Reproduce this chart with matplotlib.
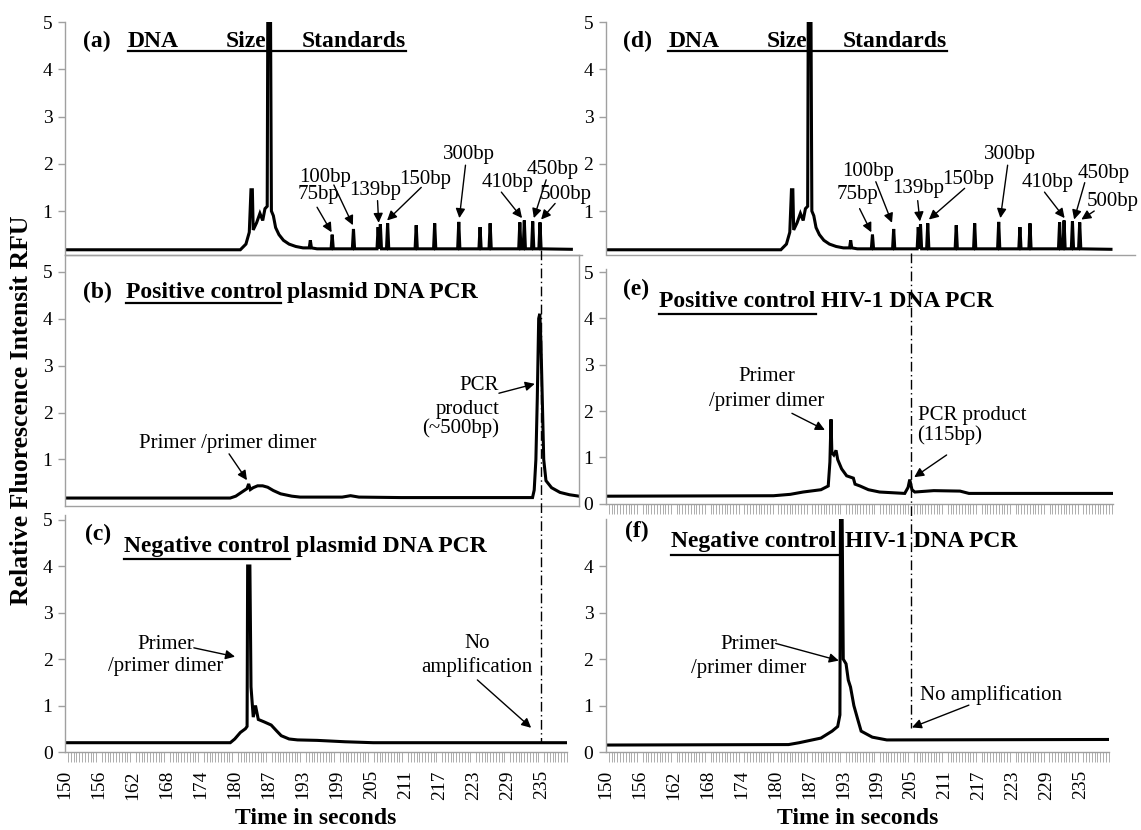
import matplotlib
matplotlib.use("Agg")
import matplotlib.pyplot as plt
from matplotlib.lines import Line2D
import matplotlib.transforms as mtrans
import numpy as np

plt.rcParams['font.family'] = ['Liberation Serif', 'DejaVu Serif']

# ---------------- data ----------------
XTICK_LABELS = ['150', '156', '162', '168', '174', '180', '187', '193', '199',
                '205', '211', '217', '223', '229', '235']

# DNA size standard trace, panels (a) and (d)
LADDER_T = [150, 181.3, 182.3, 182.9, 183.2, 183.45, 183.6, 184.2, 184.8, 185.3, 185.7, 186.1,
            186.2, 186.7, 186.85, 187.2, 187.6, 188.2, 189.0, 190.0, 191.2, 192.5, 193.6, 193.8,
            194.0, 195.0, 197.5, 197.7, 197.9, 201.3, 201.5, 201.7, 205.7, 205.9, 206.1, 206.3,
            206.5, 207.4, 207.6, 207.8, 212.5, 212.7, 212.9, 215.8, 216.0, 216.2, 220.1, 220.3,
            220.5, 223.9, 224.1, 224.3, 225.7, 225.9, 226.1, 231.0, 231.2, 231.4, 231.8, 232.0,
            232.2, 233.3, 233.5, 233.7, 234.6, 234.8, 235.0, 240.4]
LADDER_V = [0.18, 0.18, 0.3, 0.55, 1.45, 1.45, 0.6, 0.75, 0.95, 0.8, 1.05, 1.1,
            5.0, 5.0, 1.0, 0.9, 0.65, 0.5, 0.38, 0.3, 0.25, 0.22, 0.22, 0.38,
            0.22, 0.2, 0.2, 0.5, 0.2, 0.2, 0.62, 0.2, 0.2, 0.66, 0.2, 0.72,
            0.2, 0.2, 0.74, 0.2, 0.2, 0.7, 0.2, 0.2, 0.74, 0.2, 0.2, 0.77,
            0.2, 0.2, 0.66, 0.2, 0.2, 0.74, 0.2, 0.2, 0.76, 0.2, 0.2, 0.8,
            0.2, 0.2, 0.78, 0.2, 0.2, 0.76, 0.2, 0.19]

# (b) positive control plasmid DNA PCR
POS_PLASMID_T = [150, 179.5, 180.5, 181.5, 182.5, 182.8, 183.1, 183.6, 184.4, 185.3, 186.2,
                 187.2, 188.5, 190.5, 192.0, 199.5, 201.0, 202.5, 210.0, 233.5, 233.8, 234.1,
                 234.35, 234.6, 234.8, 235.0, 235.3, 235.5, 235.9, 236.9, 238.4, 240.1, 241.8]
POS_PLASMID_V = [0.18, 0.18, 0.22, 0.3, 0.38, 0.48, 0.36, 0.4, 0.44, 0.44, 0.41,
                 0.34, 0.27, 0.22, 0.2, 0.2, 0.23, 0.2, 0.19, 0.19, 0.35, 1.0,
                 2.3, 4.0, 4.1, 3.5, 2.0, 1.0, 0.55, 0.4, 0.3, 0.25, 0.22]

# (c) negative control plasmid DNA PCR
NEG_PLASMID_T = [150, 179.5, 180.3, 181.3, 182.2, 182.5, 182.6, 183.0, 183.2, 183.6, 184.0,
                 184.5, 185.5, 186.8, 187.8, 188.6, 190.0, 191.5, 195.0, 200.0, 205.0, 239.6]
NEG_PLASMID_V = [0.2, 0.2, 0.28, 0.42, 0.5, 0.55, 4.0, 4.0, 1.4, 0.75, 1.0,
                 0.7, 0.65, 0.58, 0.45, 0.35, 0.28, 0.26, 0.25, 0.22, 0.2, 0.2]

# (e) positive control HIV-1 DNA PCR
POS_HIV_T = [150, 180, 183, 185.3, 188.5, 189.8, 190.1, 190.3, 190.45, 190.8, 191.2, 191.5,
             192.2, 193.1, 194.3, 194.6, 195.5, 197.0, 199.0, 203.5, 204.1, 204.4, 204.8,
             205.3, 208.7, 213.4, 215.0, 240.8]
POS_HIV_V = [0.16, 0.17, 0.2, 0.25, 0.3, 0.38, 0.9, 1.82, 1.1, 1.05, 1.15, 0.95,
             0.75, 0.6, 0.55, 0.42, 0.38, 0.3, 0.25, 0.22, 0.35, 0.52, 0.3,
             0.25, 0.28, 0.27, 0.22, 0.22]

# (f) negative control HIV-1 DNA PCR
NEG_HIV_T = [150, 182.7, 184.6, 188.5, 190.5, 191.5, 191.9, 192.0, 192.3, 192.5, 193.0, 193.4,
             193.8, 194.4, 195.1, 195.7, 197.7, 200.3, 240.1]
NEG_HIV_V = [0.15, 0.16, 0.2, 0.3, 0.45, 0.55, 0.8, 5.0, 5.0, 2.0, 1.9, 1.55,
             1.4, 1.0, 0.7, 0.45, 0.32, 0.26, 0.27]

LADDER_LABELS = ['75bp', '100bp', '139bp', '150bp', '300bp', '410bp', '450bp', '500bp']
PCR_PRODUCT_TIME_PLASMID = 235.0
PCR_PRODUCT_TIME_HIV = 204.6

# ---------------- layout ----------------
W, H = 1141, 830
fig = plt.figure(figsize=(W / 100, H / 100), dpi=100)

GRAY = '#a0a0a0'
FS_TICK = 14
FS_ANN = 15
FS_TITLE = 17
XT_POS = [150 + k * 85 / 14 for k in range(15)]
MINOR = np.arange(150, 245, 85 / 14 / 12)


def fx(x):
    return x / W


def fy(y):
    return 1 - y / H


def add_ax(x0, x1, ytop, ybot, xmax, ylim, spines):
    ax = fig.add_axes([fx(x0), fy(ybot), (x1 - x0) / W, (ybot - ytop) / H])
    ax.set_facecolor('none')
    ax.set_xlim(150, xmax)
    ax.set_ylim(*ylim)
    for s in ['left', 'right', 'top', 'bottom']:
        ax.spines[s].set_visible(s in spines)
        ax.spines[s].set_color(GRAY)
        ax.spines[s].set_linewidth(1.0)
    ax.tick_params(axis='y', colors=GRAY, labelcolor='black', labelsize=FS_TICK,
                   length=5, width=1, pad=4)
    ax.set_xticks([])
    return ax


def minor_x(ax, labels):
    ax.set_xticks(XT_POS)
    if labels:
        ax.set_xticklabels(XTICK_LABELS, rotation=90, fontsize=14)
    else:
        ax.set_xticklabels([])
    ax.set_xticks(MINOR[MINOR <= ax.get_xlim()[1]], minor=True)
    ax.tick_params(axis='x', which='major', length=0, pad=13)
    ax.tick_params(axis='x', which='minor', length=7, width=0.6, colors=GRAY, direction='out')


def arrow(ax, start, tip):
    ax.annotate('', xy=tip, xytext=start,
                arrowprops=dict(arrowstyle='-|>', color='black', lw=1.0,
                                mutation_scale=14, shrinkA=0, shrinkB=0),
                annotation_clip=False)


def txt(ax, pos, s, ha='center'):
    ax.text(pos[0], pos[1], s, fontsize=FS_ANN, ha=ha, va='center', clip_on=False)


LW = 2.2

# (a)
axa = add_ax(65, 582, 22, 254.5, 242.3, (0.08, 5.0), ['left', 'bottom'])
axa.set_yticks([1, 2, 3, 4, 5])
axa.plot(LADDER_T, LADDER_V, color='black', lw=LW, solid_joinstyle='miter')
# (d)
axd = add_ax(606, 1135, 22, 254.5, 244.7, (0.08, 5.0), ['left', 'bottom'])
axd.set_yticks([1, 2, 3, 4, 5])
axd.plot(LADDER_T, LADDER_V, color='black', lw=LW, solid_joinstyle='miter')

lad_txt_a = [(195.2, 1.34), (196.5, 1.70), (205.4, 1.44), (214.3, 1.66), (222.2, 2.19),
             (229.0, 1.60), (237.1, 1.87), (239.3, 1.34)]
lad_st_a = [(195.0, 1.08), (198.0, 1.55), (205.8, 1.22), (213.6, 1.5), (221.5, 1.97),
            (227.9, 1.4), (235.9, 1.66), (237.5, 1.16)]
lad_tip_a = [(197.6, 0.55), (201.4, 0.7), (206.0, 0.75), (207.5, 0.8), (220.4, 0.85),
             (231.6, 0.85), (233.7, 0.85), (235.0, 0.82)]
lad_txt_d = [(195.0, 1.34), (197.0, 1.83), (205.8, 1.48), (214.9, 1.66), (222.4, 2.19),
             (229.0, 1.60), (239.1, 1.80), (240.7, 1.20)]
lad_st_d = [(195.4, 1.05), (198.3, 1.62), (205.8, 1.22), (214.2, 1.48), (221.9, 1.97),
            (228.5, 1.4), (235.7, 1.6), (237.4, 1.0)]
lad_tip_d = [(197.5, 0.55), (201.2, 0.75), (206.2, 0.78), (207.8, 0.82), (220.6, 0.85),
             (232.1, 0.85), (233.8, 0.82), (235.1, 0.82)]
for ax, tp, sp, ip in [(axa, lad_txt_a, lad_st_a, lad_tip_a), (axd, lad_txt_d, lad_st_d, lad_tip_d)]:
    for lab, p, s, t in zip(LADDER_LABELS, tp, sp, ip):
        txt(ax, p, lab)
        arrow(ax, s, t)

# (b)
axb = add_ax(65, 579, 255, 506.5, 241.8, (0, (506.5 - 255) / 47), ['left', 'bottom', 'top', 'right'])
axb.set_yticks([1, 2, 3, 4, 5])
axb.plot(POS_PLASMID_T, POS_PLASMID_V, color='black', lw=LW, solid_joinstyle='miter')
txt(axb, (179.0, 1.34), 'Primer /primer dimer')
arrow(axb, (179.3, 1.12), (182.5, 0.56))
txt(axb, (223.9, 2.57), 'PCR')
txt(axb, (221.9, 2.06), 'product')
txt(axb, (220.6, 1.66), '(~500bp)')
arrow(axb, (227.5, 2.41), (233.9, 2.61))

# (c)
axc = add_ax(65, 567, 515, 752, 239.6, (0, (752 - 515) / 46.5), ['left', 'bottom'])
axc.set_yticks([0, 1, 2, 3, 4, 5])
minor_x(axc, True)
axc.plot(NEG_PLASMID_T, NEG_PLASMID_V, color='black', lw=LW, solid_joinstyle='miter')
txt(axc, (168.0, 2.32), 'Primer')
txt(axc, (168.0, 1.83), '/primer dimer')
arrow(axc, (173.0, 2.24), (180.35, 2.05))
txt(axc, (223.6, 2.34), 'No')
txt(axc, (223.6, 1.83), 'amplification')
arrow(axc, (223.6, 1.55), (233.2, 0.52))

# (e)
axe = add_ax(606, 1113, 269, 503.6, 240.8, (0, (503.6 - 269) / 46.3), ['left', 'bottom'])
axe.set_yticks([0, 1, 2, 3, 4, 5])
minor_x(axe, False)
axe.plot(POS_HIV_T, POS_HIV_V, color='black', lw=LW, solid_joinstyle='miter')
txt(axe, (178.8, 2.74), 'Primer')
txt(axe, (178.8, 2.20), '/primer dimer')
arrow(axe, (183.3, 1.95), (189.2, 1.59))
txt(axe, (205.8, 1.91), 'PCR product', ha='left')
txt(axe, (205.8, 1.48), '(115bp)', ha='left')
arrow(axe, (211.0, 1.05), (205.2, 0.57))

# (f)
axf = add_ax(606, 1109, 519, 752, 240.1, (0, (752 - 519) / 46.4), ['left', 'bottom'])
axf.set_yticks([0, 1, 2, 3, 4])
minor_x(axf, True)
axf.plot(NEG_HIV_T, NEG_HIV_V, color='black', lw=LW, solid_joinstyle='miter')
txt(axf, (175.5, 2.31), 'Primer')
txt(axf, (175.5, 1.80), '/primer dimer')
arrow(axf, (180.4, 2.34), (191.7, 1.97))
txt(axf, (218.9, 1.23), 'No amplification')
arrow(axf, (215.0, 1.01), (204.8, 0.53))

# dash-dot marker lines for the PCR product position
for ax, t, y0, y1 in [(axb, PCR_PRODUCT_TIME_PLASMID, 250, 742), (axe, PCR_PRODUCT_TIME_HIV, 253, 728)]:
    tr = mtrans.blended_transform_factory(ax.transData, fig.transFigure)
    fig.add_artist(Line2D([t, t], [fy(y0), fy(y1)], transform=tr, color='black', lw=1.0,
                          dashes=(7, 2.5, 1, 2.5)))


# panel titles
def ftext(x, y, s, bold=True, size=FS_TITLE):
    fig.text(fx(x), fy(y), s, fontsize=size, fontweight='bold' if bold else 'normal',
             ha='left', va='baseline')


def uline(x0, x1, y):
    fig.add_artist(Line2D([fx(x0), fx(x1)], [fy(y), fy(y)], transform=fig.transFigure,
                          color='black', lw=1.6))


ftext(83, 47, '(a)')
ftext(127.6, 47, 'DNA')
ftext(225.7, 47, 'Size')
ftext(301.5, 47, 'Standards')
uline(127.6, 406, 51)

ftext(623, 47, '(d)')
ftext(668.3, 47, 'DNA')
ftext(766.7, 47, 'Size')
ftext(842.4, 47, 'Standards')
uline(668.3, 947, 51)

ftext(83, 298, '(b)')
ftext(125.8, 298, 'Positive control')
ftext(286.7, 298, 'plasmid DNA PCR')
uline(125.8, 281.2, 303)

ftext(85, 540, '(c)')
ftext(124, 551.7, 'Negative control')
ftext(296, 551.7, 'plasmid DNA PCR')
uline(124, 290.4, 558.5)

ftext(623, 295, '(e)')
ftext(659.2, 307.3, 'Positive control')
ftext(821.3, 307.3, 'HIV-1 DNA PCR')
uline(659.2, 815.8, 314)

ftext(624.6, 536.7, '(f)')
ftext(671.2, 547.3, 'Negative control')
ftext(845, 547.3, 'HIV-1 DNA PCR')
uline(671.2, 837.7, 554.5)

# axis titles
fig.text(fx(22), fy(410), 'Relative Fluorescence Intensit RFU', rotation=90, fontsize=18.5,
         fontweight='bold', ha='center', va='center')
fig.text(fx(315.5), fy(818), 'Time in seconds', fontsize=17, fontweight='bold',
         ha='center', va='center')
fig.text(fx(857.7), fy(818), 'Time in seconds', fontsize=17, fontweight='bold',
         ha='center', va='center')

fig.savefig('out.png', dpi=100)
